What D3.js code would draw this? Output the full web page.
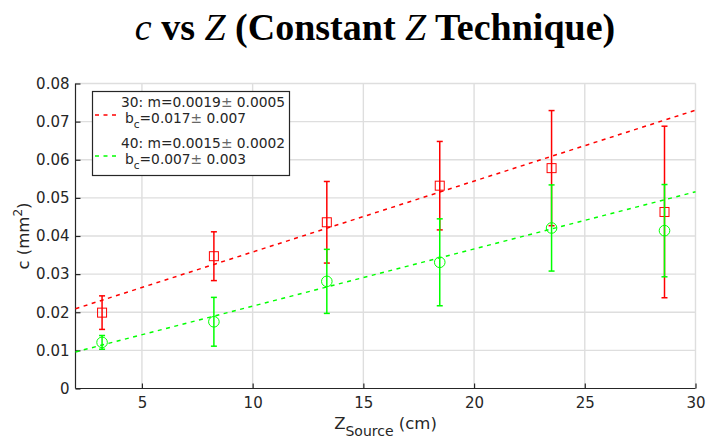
<!DOCTYPE html>
<html>
<head>
<meta charset="utf-8">
<script src="https://cdn.jsdelivr.net/npm/d3@7/dist/d3.min.js"></script>
<style>
  html, body { margin: 0; padding: 0; background: #fff; }
  svg { display: block; }
  text { font-family: "DejaVu Sans", sans-serif; fill: #262626; }
</style>
</head>
<body>
<svg id="chart" width="706" height="441"></svg>
<script>
// Source positions (cm)
const zSource = [3.2, 8.25, 13.35, 18.45, 23.5, 28.6];

// Series "30": measured c (mm^2) and its uncertainty
const c30 = [0.0199, 0.0347, 0.0436, 0.0532, 0.0578, 0.0463];
const err30 = [0.0044, 0.0064, 0.0107, 0.0116, 0.0151, 0.0225];

// Series "40": measured c (mm^2) and its uncertainty
const c40 = [0.0121, 0.0175, 0.0281, 0.0331, 0.0421, 0.0414];
const err40 = [0.0018, 0.0064, 0.0084, 0.0114, 0.0113, 0.0121];

// Linear fits c = m*Z + b_c, with uncertainties
const fit30 = { m: 0.00186, dm: 0.0005, b: 0.0172, db: 0.007 };
const fit40 = { m: 0.00150, dm: 0.0002, b: 0.0066, db: 0.003 };

const xTicks = [5, 10, 15, 20, 25, 30];
const yTicks = [0, 0.01, 0.02, 0.03, 0.04, 0.05, 0.06, 0.07, 0.08];

const svg = d3.select("#chart");
const pLeft = 75.5, pRight = 695.5, pTop = 83.5, pBottom = 388.5;

const x = d3.scaleLinear().domain([2, 30]).range([pLeft, pRight]);
const y = d3.scaleLinear().domain([0, 0.08]).range([pBottom, pTop]);

// Grid
const grid = svg.append("g").attr("stroke", "#dedede").attr("stroke-width", 1.4);
grid.selectAll("line.v").data(xTicks).join("line")
  .attr("x1", d => x(d)).attr("x2", d => x(d)).attr("y1", pTop).attr("y2", pBottom);
grid.selectAll("line.h").data(yTicks.filter(d => d > 0)).join("line")
  .attr("x1", pLeft).attr("x2", pRight).attr("y1", d => y(d)).attr("y2", d => y(d));

// Axes with inward ticks
const xAxis = svg.append("g").attr("transform", `translate(0,${pBottom})`)
  .call(d3.axisBottom(x).tickValues(xTicks).tickSizeInner(-5).tickSizeOuter(0).tickPadding(9).tickFormat(d3.format("d")));
const yAxis = svg.append("g").attr("transform", `translate(${pLeft},0)`)
  .call(d3.axisLeft(y).tickValues(yTicks).tickSizeInner(-5).tickSizeOuter(0).tickPadding(6)
    .tickFormat(d => d === 0 ? "0" : d3.format(".2f")(d)));
[xAxis, yAxis].forEach(a => {
  a.select(".domain").attr("stroke", "#262626").attr("stroke-width", 1.2);
  a.selectAll(".tick line").attr("stroke", "#262626").attr("stroke-width", 1.2);
  a.selectAll(".tick text").attr("fill", "#262626").style("font-size", "15px")
    .style("font-family", "DejaVu Sans, sans-serif");
});
xAxis.select(".domain").attr("d", `M${pLeft},0H${pRight}`);
yAxis.select(".domain").attr("d", `M0,${pBottom}V${pTop}`);

// Fit lines
const plot = svg.append("g");
function fitLine(fit, color) {
  plot.append("line")
    .attr("x1", x(2)).attr("y1", y(fit.m * 2 + fit.b))
    .attr("x2", x(30)).attr("y2", y(fit.m * 30 + fit.b))
    .attr("stroke", color).attr("stroke-width", 1.5).attr("stroke-dasharray", "4,4.5");
}
fitLine(fit30, "#ff0000");
fitLine(fit40, "#00ff00");

// Error bars and markers
function errorSeries(vals, errs, color, marker) {
  const g = plot.append("g").attr("stroke", color).attr("fill", "none").attr("stroke-width", 1.5);
  const pts = zSource.map((z, i) => ({ z, v: vals[i], e: errs[i] }));
  g.selectAll("line.bar").data(pts).join("line")
    .attr("x1", d => x(d.z)).attr("x2", d => x(d.z))
    .attr("y1", d => y(d.v - d.e)).attr("y2", d => y(d.v + d.e));
  g.selectAll("line.capT").data(pts).join("line")
    .attr("x1", d => x(d.z) - 3).attr("x2", d => x(d.z) + 3)
    .attr("y1", d => y(d.v + d.e)).attr("y2", d => y(d.v + d.e));
  g.selectAll("line.capB").data(pts).join("line")
    .attr("x1", d => x(d.z) - 3).attr("x2", d => x(d.z) + 3)
    .attr("y1", d => y(d.v - d.e)).attr("y2", d => y(d.v - d.e));
  if (marker === "square") {
    g.selectAll("rect").data(pts).join("rect")
      .attr("x", d => x(d.z) - 4.5).attr("y", d => y(d.v) - 4.5)
      .attr("width", 9).attr("height", 9).attr("stroke-width", 1);
  } else {
    g.selectAll("circle").data(pts).join("circle")
      .attr("cx", d => x(d.z)).attr("cy", d => y(d.v)).attr("r", 5.3).attr("stroke-width", 1);
  }
}
errorSeries(c30, err30, "#ff0000", "square");
errorSeries(c40, err40, "#00ff00", "circle");

// Legend
const lg = svg.append("g");
lg.append("rect").attr("x", 92.5).attr("y", 91.5).attr("width", 197).attr("height", 84)
  .attr("fill", "#fff").attr("stroke", "#262626").attr("stroke-width", 1.2);
const fmtM = d3.format(".4f"), fmtB = d3.format(".3f");
function legendEntry(name, fit, color, y0) {
  lg.append("line").attr("x1", 95).attr("x2", 119).attr("y1", y0 + 8).attr("y2", y0 + 8)
    .attr("stroke", color).attr("stroke-width", 1.5).attr("stroke-dasharray", "4,4.5");
  const t1 = lg.append("text").attr("x", 121).attr("y", y0).style("font-size", "13.8px");
  t1.append("tspan").text(`${name}: m=${fmtM(fit.m)}`);
  t1.append("tspan").attr("fill", "#666").text("±");
  t1.append("tspan").text(` ${fmtM(fit.dm)}`);
  const t2 = lg.append("text").attr("x", 125).attr("y", y0 + 16).style("font-size", "13.8px");
  t2.append("tspan").text("b");
  t2.append("tspan").attr("dy", 5).style("font-size", "10.5px").text("c");
  t2.append("tspan").attr("dy", -5).text(`=${fmtB(fit.b)}`);
  t2.append("tspan").attr("fill", "#666").text("±");
  t2.append("tspan").text(` ${fmtB(fit.db)}`);
}
legendEntry("30", fit30, "#ff0000", 107);
legendEntry("40", fit40, "#00ff00", 148);

// Axis labels
const xl = svg.append("text").attr("x", 385.5).attr("y", 429).attr("text-anchor", "middle")
  .style("font-size", "16.5px");
xl.append("tspan").text("Z");
xl.append("tspan").attr("dy", 7).style("font-size", "14px").text("Source");
xl.append("tspan").attr("dy", -7).text(" (cm)");

const yl = svg.append("text").attr("transform", `translate(29,${(pTop + pBottom) / 2}) rotate(-90)`)
  .attr("text-anchor", "middle").style("font-size", "16.5px");
yl.append("tspan").text("c (mm");
yl.append("tspan").attr("dy", -7).style("font-size", "12px").text("2");
yl.append("tspan").attr("dy", 7).text(")");

// Title
const title = svg.append("text").attr("x", 375).attr("y", 40).attr("text-anchor", "middle")
  .style("font-family", "Liberation Serif, serif").style("font-weight", "bold").style("font-size", "38px")
  .style("fill", "#000");
title.append("tspan").style("font-style", "italic").style("font-weight", "normal").text("c");
title.append("tspan").text(" vs ");
title.append("tspan").style("font-style", "italic").style("font-weight", "normal").text("Z");
title.append("tspan").text(" (Constant ");
title.append("tspan").style("font-style", "italic").style("font-weight", "normal").text("Z");
title.append("tspan").text(" Technique)");
</script>
</body>
</html>
